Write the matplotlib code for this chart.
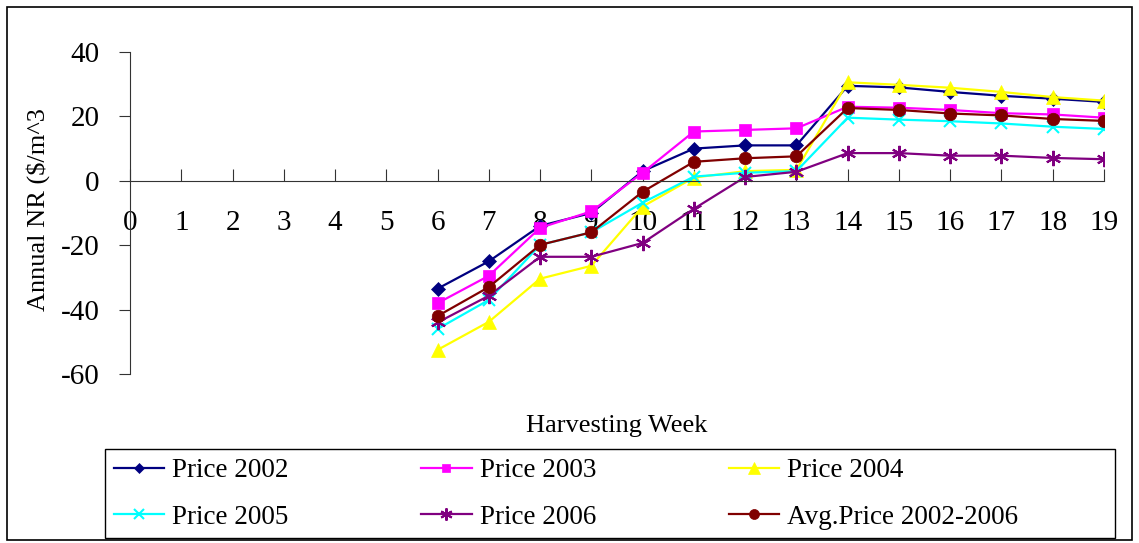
import numpy as np
import matplotlib
matplotlib.use("Agg")
import matplotlib.pyplot as plt
from matplotlib.patches import Rectangle

# ==========================================
# DATA
# ==========================================

weeks = [6, 7, 8, 9, 10, 11, 12, 13, 14, 15, 16, 17, 18, 19]

price_2002 = [-33.5, -25.0, -14.0, -10.0, 3.0, 10.0, 11.0, 11.0, 29.5, 29.0, 27.6, 26.4, 25.5, 24.5]
price_2003 = [-38.0, -29.5, -14.6, -9.5, 2.5, 15.3, 15.8, 16.3, 23.0, 22.7, 22.0, 21.0, 20.6, 19.6]
price_2004 = [-52.5, -43.8, -30.4, -26.4, -8.0, 1.0, 3.0, 3.4, 30.6, 29.8, 28.9, 27.6, 26.0, 24.9]
price_2005 = [-46.0, -37.0, -19.9, -16.0, -6.8, 1.3, 2.5, 3.0, 19.6, 19.0, 18.5, 17.8, 16.8, 16.1]
price_2006 = [-44.0, -35.7, -23.6, -23.6, -19.3, -8.7, 1.2, 2.8, 8.6, 8.6, 7.8, 7.8, 7.1, 6.7]
price_avg = [-42.0, -33.0, -19.9, -16.0, -3.4, 5.9, 7.0, 7.6, 22.6, 22.0, 20.9, 20.3, 19.2, 18.6]

series_labels = ["Price 2002", "Price 2003", "Price 2004",
                 "Price 2005", "Price 2006", "Avg.Price 2002-2006"]

x_ticks = list(range(0, 20))
y_ticks = [-60, -40, -20, 0, 20, 40]

# ==========================================
# STYLE
# ==========================================

plt.rcParams["font.family"] = ["Liberation Serif", "DejaVu Serif"]
plt.rcParams["axes.unicode_minus"] = False

colors = ["#000080", "#FF00FF", "#FFFF00", "#00FFFF", "#800080", "#800000"]
markers = ["D", "s", "^", "x", (6, 2, 0), "o"]
sizes = [7, 8, 10, 9, 11, 9]

# ==========================================
# PLOT
# ==========================================

fig = plt.figure(figsize=(11.39, 5.43), dpi=100)
ax = fig.add_axes([130 / 1139, 1 - 374 / 543, (1104 - 130) / 1139, (374 - 52) / 543])

all_series = [price_2002, price_2003, price_2004, price_2005, price_2006, price_avg]
handles = []
for vals, lab, col, mk, ms in zip(all_series, series_labels, colors, markers, sizes):
    h, = ax.plot(weeks, vals, color=col, marker=mk, markersize=ms, linewidth=1.6,
                 markeredgewidth=1.5 if mk in ("x", (6, 2, 0)) else 0.5,
                 markeredgecolor=col, label=lab)
    handles.append(h)

ax.set_xlim(0, 19)
ax.set_ylim(-60, 40)

ax.spines["top"].set_visible(False)
ax.spines["right"].set_visible(False)
ax.spines["bottom"].set_position(("data", 0))
ax.spines["left"].set_color("#333333")
ax.spines["bottom"].set_color("#333333")

ax.set_xticks(x_ticks)
ax.set_yticks(y_ticks)
ax.tick_params(axis="x", direction="in", length=9, pad=21, labelsize=21, color="#333333")
ax.tick_params(axis="y", direction="out", length=8, pad=14, labelsize=21, color="#333333")

fig.text(617 / 1139, 1 - 426 / 543, "Harvesting Week", ha="center", va="center", fontsize=19)
fig.text(38 / 1139, 1 - 210 / 543, "Annual NR ($/m^3", ha="center", va="center",
         rotation=90, fontsize=19)

# legend filled row by row (matplotlib fills by column)
order = [0, 3, 1, 4, 2, 5]
leg = fig.legend([handles[i] for i in order], [series_labels[i] for i in order],
                 loc="center left", ncol=3,
                 bbox_to_anchor=(114 / 1139, 1 - 494 / 543),
                 fontsize=19.5, frameon=False,
                 handlelength=1.85, handletextpad=0.3, borderaxespad=0.0,
                 borderpad=0.0, columnspacing=4.9,
                 labelspacing=0.78, markerscale=0.8)

# legend frame and outer chart border
fig.patches.append(Rectangle((105 / 1139, 1 - 538 / 543), 1010 / 1139, 89 / 543,
                             transform=fig.transFigure, fill=False,
                             edgecolor="black", linewidth=1.0))
fig.patches.append(Rectangle((7 / 1139, 3 / 543), 1125 / 1139, 533 / 543,
                             transform=fig.transFigure, fill=False,
                             edgecolor="black", linewidth=1.2))

plt.savefig("out.png", dpi=100)
